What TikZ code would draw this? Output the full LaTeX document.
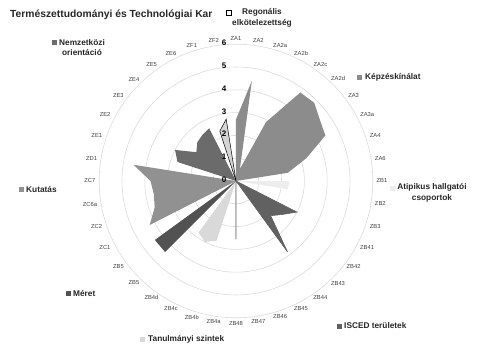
\documentclass[tikz,border=0pt]{standalone}
\usepackage{fontspec}
\setmainfont{Liberation Sans}
\definecolor{kepzes}{gray}{0.55}
\definecolor{kutatas}{gray}{0.57}
\definecolor{nemzetkozi}{gray}{0.42}
\definecolor{meret}{gray}{0.32}
\definecolor{isced}{gray}{0.38}
\definecolor{tanulm}{gray}{0.85}
\definecolor{atipikus}{gray}{0.93}
\definecolor{regio}{gray}{0.83}
\definecolor{racs}{gray}{0.86}
\newcommand{\runit}{22.8}

\begin{document}
\begin{tikzpicture}[x=1pt, y=1pt,
    legtext/.style={inner sep=0pt, text=black!85, font=\fontsize{8.3}{10.5}\selectfont\bfseries},
    legbox/.style={minimum size=5pt, inner sep=0pt},
    axlabel/.style={inner sep=1.5pt, text=black!75, font=\fontsize{5.8}{6}\selectfont},
    ringlabel/.style={inner sep=0pt, font=\fontsize{8}{8}\selectfont\bfseries}]
    \useasboundingbox (-236,-168) rectangle (241,181);
    % racs
    \foreach \r in {1,...,6}
        \draw[racs, line width=0.6pt] (0,0) circle (\r*\runit);
    % adatsorok
    \fill[kepzes] (0,0) \foreach \v [count=\k from 0] in {2.7,4.45,0.55,2.9,4.8,4.85,4.55,4.4,3.25,2.3} { -- ({90-9*\k}:{\v*\runit}) } -- cycle;
    \fill[atipikus] (0,0) \foreach \v [count=\k from 10] in {2.35,2.3} { -- ({90-9*\k}:{\v*\runit}) } -- cycle;
    \filldraw[isced, line width=0.6pt] (0,0) \foreach \v [count=\k from 13] in {3.0,2.5,2.15,3.85,0,0,0,2.55} { -- ({90-9*\k}:{\v*\runit}) } -- cycle;
    \fill[tanulm] (0,0) \foreach \v [count=\k from 22] in {2.75,3.0,2.8} { -- ({90-9*\k}:{\v*\runit}) } -- cycle;
    \fill[meret] (0,0) \foreach \v [count=\k from 25] in {4.4,4.4} { -- ({90-9*\k}:{\v*\runit}) } -- cycle;
    \fill[kutatas] (0,0) \foreach \v [count=\k from 27] in {4.25,3.75,3.65,3.75,4.55} { -- ({90-9*\k}:{\v*\runit}) } -- cycle;
    \fill[nemzetkozi] (0,0) \foreach \v [count=\k from 32] in {2.7,3.0,2.15,2.4,2.5,2.6} { -- ({90-9*\k}:{\v*\runit}) } -- cycle;
    \filldraw[fill=regio, draw=black, line width=0.5pt] (0,0) \foreach \v [count=\k from 38] in {2.3,2.75} { -- ({90-9*\k}:{\v*\runit}) } -- cycle;
    % tengely feliratok
    \foreach \n [count=\k from 0, evaluate=\k as \a using 90-9*\k, evaluate=\k as \b using {int(mod(630-9*\k,360))}] in
        {ZA1,ZA2,ZA2a,ZA2b,ZA2c,ZA2d,ZA3,ZA3a,ZA4,ZA6,ZB1,ZB2,ZB3,ZB41,ZB42,ZB43,ZB44,ZB45,ZB46,ZB47,
         ZB48,ZB4a,ZB4b,ZB4c,ZB4d,ZB5,ZB5,ZC1,ZC2,ZC6a,ZC7,ZD1,ZE1,ZE2,ZE3,ZE4,ZE5,ZE6,ZF1,ZF2}
        \node[axlabel, anchor=\b] (ax\k) at (\a:139) {\n};
    \foreach \r in {0,...,6}
        \node[ringlabel, anchor=east] (ring\r) at (-9.5,\r*\runit+1.3) {\r};
    % cim es jelmagyarazat
    \node[anchor=west, inner sep=0pt, text=black!85, font=\fontsize{10.3}{12}\selectfont\bfseries] (cim) at (-226,166) {Természettudományi és Technológiai Kar};
    \node[legbox, fill=white, draw=black, line width=0.4pt] (regio-m) at (-7,168) {};
    \node[legtext, align=center] (regio) at (26,163) {Regonális\\elkötelezettség};
    \node[legbox, fill=nemzetkozi] (nemz-m) at (-181,138.7) {};
    \node[legtext, align=center] (nemz) at (-154,133.5) {Nemzetközi\\orientáció};
    \node[legbox, fill=kepzes] (kepz-m) at (124,104) {};
    \node[legtext, anchor=west] (kepz) at (129,104) {Képzéskínálat};
    \node[legbox, fill=atipikus] (atip-m) at (157,-7) {};
    \node[legtext, align=center] (atip) at (196,-12) {Atipikus hallgatói\\csoportok};
    \node[legbox, fill=kutatas] (kut-m) at (-214,-8) {};
    \node[legtext, anchor=west] (kut) at (-210,-8) {Kutatás};
    \node[legbox, fill=meret] (mer-m) at (-167.7,-112) {};
    \node[legtext, anchor=west] (mer) at (-163,-112) {Méret};
    \node[legbox, fill=tanulm] (tan-m) at (-93.3,-158) {};
    \node[legtext, anchor=west] (tan) at (-88,-158) {Tanulmányi szintek};
    \node[legbox, fill=isced] (isc-m) at (104,-145) {};
    \node[legtext, anchor=west] (isc) at (108,-145) {ISCED területek};
\end{tikzpicture}
\end{document}
